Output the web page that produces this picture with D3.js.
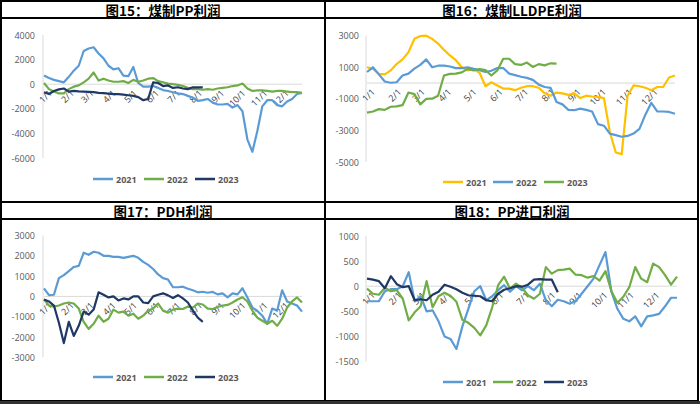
<!DOCTYPE html>
<html><head><meta charset="utf-8">
<script src="https://cdn.jsdelivr.net/npm/d3@7"></script>
<style>body{margin:0;background:#fff}svg{display:block}</style>
</head><body>
<svg id="c" width="700" height="404"></svg>
<script>
// ---------- data (weekly samples, day = 7*i) ----------
const monthLabels = ["1/1","2/1","3/1","4/1","5/1","6/1","7/1","8/1","9/1","10/1","11/1","12/1"];
const monthDays = [0,31,59,90,120,151,181,212,243,273,304,334];
const years = ["2021","2022","2023"];

const titles = ["图15：煤制PP利润","图16：煤制LLDPE利润","图17：PDH利润","图18：PP进口利润"];

const ppCoal2021 = [700,500,350,250,150,600,1100,1500,2700,2900,3000,2500,2100,1500,1200,1300,700,650,1400,100,-200,-200,-150,-300,-480,-550,-650,-750,-800,-950,-1100,-1350,-1300,-1200,-1500,-1650,-1650,-1600,-1900,-1700,-2200,-4500,-5500,-3800,-1800,-1300,-1300,-1700,-1800,-1400,-1200,-800,-700];
const ppCoal2022 = [100,-400,-600,-750,-750,-400,-200,-100,150,450,950,300,450,300,200,200,250,100,350,200,300,450,500,250,150,50,0,-50,-150,-300,-400,-400,-450,-400,-450,-350,-300,-250,-150,-100,50,-350,-550,-500,-500,-550,-600,-550,-550,-600,-650,-650,-700];
const ppCoal2023 = [-650,-800,-550,-420,-350,-600,-550,-580,-600,-620,-650,-700,-720,-760,-800,-800,-850,-900,-950,-1050,-1300,-1200,150,100,-150,-100,-300,-250,-350,-400,-250,-250,-250];

const peCoal2021 = [1000,900,580,550,800,1200,1500,1950,2800,2980,3000,2800,2500,2100,1750,1450,1000,800,900,650,-200,50,-150,-350,-350,-450,-300,-200,-200,-300,-650,-800,-600,-650,-750,-650,-950,-800,-850,-880,-950,-3100,-4400,-4500,-800,-150,-200,-300,-450,-250,-250,350,480];
const peCoal2022 = [700,1000,550,100,20,50,480,600,910,1150,1500,1000,1100,1100,1050,950,950,1000,900,820,700,780,950,950,600,500,400,330,200,-100,-250,-300,-1200,-1350,-1700,-1720,-1620,-1700,-1800,-2600,-2700,-3200,-3300,-3400,-3350,-3200,-2900,-2000,-1250,-1800,-1800,-1830,-1940];
const peCoal2023 = [-1870,-1800,-1650,-1700,-1500,-1480,-1400,-600,-700,-1350,-1000,-990,-800,480,580,600,680,900,800,880,820,480,800,1540,1540,1200,1150,1300,1020,1200,1120,1250,1230];

const pdh2021 = [400,60,80,900,1050,1250,1450,1500,2150,2050,2200,2150,2000,2000,1950,1950,1900,1950,2000,1900,1700,1550,1350,1080,900,830,450,450,480,380,300,200,230,180,220,100,150,-50,150,100,400,-50,-550,-720,-950,-1350,-600,-700,300,-250,-350,-450,-750];
const pdh2022 = [-150,-450,-500,-450,-350,-300,-350,-600,-1250,-1600,-1350,-950,-1250,-1100,-650,-800,-750,-950,-850,-1100,-950,-700,-600,-350,-700,-800,-650,-600,-620,-500,-550,-350,-400,-600,-620,-520,-450,-420,-300,-150,-40,-250,-700,-1050,-1200,-1350,-1200,-1450,-1100,-550,-250,-50,-300];
const pdh2023 = [-150,-250,-450,-1300,-2300,-1250,-1950,-1450,-750,-900,-650,200,80,-50,0,-200,-100,-150,0,0,-300,-330,0,80,150,50,-80,60,-100,-300,-700,-1050,-1250];

const imp2021 = [-300,-300,-300,-100,-60,-60,0,280,-300,-200,-500,-480,-700,-1000,-1050,-1250,-800,-450,-100,0,-280,-200,-80,20,-110,0,-80,0,-80,50,-280,-400,-270,-300,-350,-300,-150,0,150,420,680,-110,-450,-650,-700,-600,-800,-600,-580,-550,-400,-230,-230];
const imp2022 = [-50,-150,-170,-30,-100,-80,-250,-680,-520,-400,100,-420,-200,-130,-190,-310,-670,-730,-830,-980,-780,-420,20,190,-50,50,-30,-180,-250,-150,380,250,320,330,350,230,220,170,200,110,300,-100,-330,-210,-20,380,150,80,450,380,220,30,190];
const imp2023 = [150,130,100,-40,200,40,-20,0,-280,-260,-280,-170,-110,30,-10,-60,-130,-180,-190,-200,-280,-300,-150,-70,-40,0,-10,30,130,140,130,130,-120];

const yTicks15 = [4000,2000,0,-2000,-4000,-6000];
const yTicks16 = [3000,1000,-1000,-3000,-5000];
const yTicks17 = [3000,2000,1000,0,-1000,-2000,-3000];
const yTicks18 = [1000,500,0,-500,-1000,-1500];

// ---------- styles ----------
const cLight = "#5b9bd5", cGreen = "#70ad47", cNavy = "#1f3864", cGold = "#ffc000";
const panels = [
  {title:titles[0], series:[ppCoal2021,ppCoal2022,ppCoal2023], colors:[cLight,cGreen,cNavy], ticks:yTicks15,
   dom:[-6000,4000], yr:[158,35], xr:[44,302], lab:35, tx:163, ty:10, leg:{y:179,x:[93,144,195]}},
  {title:titles[1], series:[peCoal2021,peCoal2022,peCoal2023], colors:[cGold,cLight,cGreen], ticks:yTicks16,
   dom:[-5000,3000], yr:[162,35.7], xr:[367,675], lab:359, tx:512, ty:10, leg:{y:182,x:[443,493,544]}},
  {title:titles[2], series:[pdh2021,pdh2022,pdh2023], colors:[cLight,cGreen,cNavy], ticks:yTicks17,
   dom:[-3000,3000], yr:[357.3,235.5], xr:[44,302], lab:35, tx:163, ty:211, leg:{y:377,x:[93,144,195]}},
  {title:titles[3], series:[imp2021,imp2022,imp2023], colors:[cLight,cGreen,cNavy], ticks:yTicks18,
   dom:[-1500,1000], yr:[361.5,236], xr:[367,677], lab:359, tx:512, ty:211, leg:{y:382,x:[443,493,544]}}
];

const svg = d3.select("#c");
const font = "'Open Sans', 'Liberation Sans', sans-serif";

panels.forEach(p => {
  const x = d3.scaleLinear().domain([0,364]).range(p.xr);
  const y = d3.scaleLinear().domain(p.dom).range(p.yr);
  const g = svg.append("g");
  // title
  g.append("text").attr("x",p.tx).attr("y",p.ty).attr("text-anchor","middle").attr("dominant-baseline","central")
    .attr("font-family","'Noto Sans CJK SC', sans-serif").attr("font-weight","bold").attr("font-size",13.5).attr("fill","#000").text(p.title);
  // y axis line
  g.append("line").attr("x1",p.xr[0]-1).attr("x2",p.xr[0]-1).attr("y1",y(p.dom[1])).attr("y2",y(p.dom[0])).attr("stroke","#d9d9d9").attr("stroke-width",1);
  // y tick labels
  g.selectAll(".yl").data(p.ticks).enter().append("text")
    .attr("x",p.lab).attr("y",d=>y(d)).attr("text-anchor","end").attr("dominant-baseline","central")
    .attr("font-family",font).attr("font-size",9).attr("fill","#595959").text(d=>d);
  // zero line
  g.append("line").attr("x1",p.xr[0]).attr("x2",p.xr[1]).attr("y1",y(0)).attr("y2",y(0)).attr("stroke","#d9d9d9").attr("stroke-width",1);
  // month labels
  g.selectAll(".ml").data(monthDays).enter().append("text")
    .attr("transform",d=>`translate(${x(d)+3},${y(0)+4}) rotate(-45)`)
    .attr("text-anchor","end").attr("dominant-baseline","hanging")
    .attr("font-family",font).attr("font-size",9).attr("fill","#404040").text((d,i)=>monthLabels[i]);
  // series
  const line = d3.line().x((d,i)=>x(Math.min(i*7,364))).y(d=>y(d));
  p.series.forEach((s,k)=>{
    g.append("path").datum(s).attr("d",line).attr("fill","none").attr("stroke",p.colors[k])
      .attr("stroke-width",2.2).attr("stroke-linejoin","round");
  });
  // legend
  years.forEach((yr,k)=>{
    const lx = p.leg.x[k];
    g.append("line").attr("x1",lx).attr("x2",lx+20).attr("y1",p.leg.y).attr("y2",p.leg.y).attr("stroke",p.colors[k]).attr("stroke-width",2.5);
    g.append("text").attr("x",lx+23).attr("y",p.leg.y).attr("dominant-baseline","central")
      .attr("font-family",font).attr("font-weight","bold").attr("font-size",9).attr("fill","#595959").text(yr);
  });
});

// frame
const frame = svg.append("g").attr("stroke","#000").attr("stroke-width",2).attr("fill","none");
frame.append("rect").attr("x",1).attr("y",1).attr("width",697).attr("height",400);
frame.append("line").attr("x1",0).attr("x2",699).attr("y1",18).attr("y2",18);
frame.append("line").attr("x1",0).attr("x2",699).attr("y1",202).attr("y2",202);
frame.append("line").attr("x1",0).attr("x2",699).attr("y1",219).attr("y2",219);
frame.append("line").attr("x1",325).attr("x2",325).attr("y1",0).attr("y2",402);
svg.append("rect").attr("x",0).attr("y",401).attr("width",700).attr("height",3).attr("fill","#333");
</script>
</body></html>
